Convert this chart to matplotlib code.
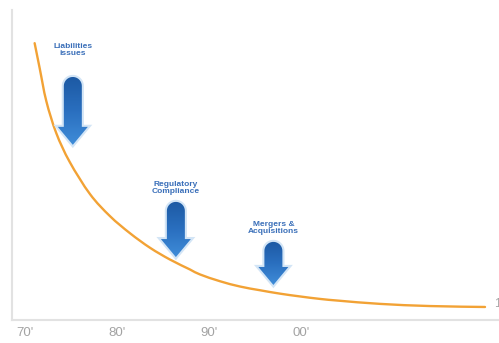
import numpy as np
import matplotlib
matplotlib.use("Agg")
from matplotlib import pyplot as plt
from matplotlib.path import Path
from matplotlib.patches import PathPatch
from matplotlib.colors import LinearSegmentedColormap

# curve (year, relative level)
years = [1971.05, 1971.60, 1972.32, 1973.40, 1974.86, 1977.07, 1979.24, 1981.41,
         1983.59, 1985.76, 1987.93, 1989.02, 1991.20, 1993.37, 1995.54, 1997.72,
         1999.89, 2002.07, 2004.24, 2008.59, 2014.02, 2020.0]
level = [89.3, 81.2, 70.6, 60.3, 51.0, 40.6, 33.5, 28.0,
         23.3, 19.5, 16.3, 14.7, 12.5, 10.8, 9.6, 8.5,
         7.6, 6.8, 6.2, 5.2, 4.5, 4.2]

tick_years = [1970, 1980, 1990, 2000]
tick_labels = ["70'", "80'", "90'", "00'"]

event_labels = ["Liabilities\nissues", "Regulatory\nCompliance", "Mergers &\nAcquisitions"]
event_years = [1975.2, 1986.4, 1997.0]
arrow_top = [78.4, 38.1, 25.2]
arrow_tip = [56.5, 20.3, 11.3]
label_level = [87.0, 42.7, 29.7]

W, H = 499, 343
fig = plt.figure(figsize=(W / 100, H / 100), dpi=100)
ax = fig.add_axes([12 / W, 23 / H, 487 / W, 310 / H])
ax.set_xlim(1968.59, 2021.52)
ax.set_ylim(0, 100)

for s in ["top", "right"]:
    ax.spines[s].set_visible(False)
for s in ["left", "bottom"]:
    ax.spines[s].set_color("#e2e2e2")
    ax.spines[s].set_linewidth(1.5)
ax.set_yticks([])
ax.set_xticks(tick_years)
ax.set_xticklabels(tick_labels, color="#a3a3a3", fontsize=9.5, family="Liberation Sans")
ax.tick_params(axis="x", length=0, pad=5)

# smooth line through the read points (Catmull-Rom drawn as cubic Beziers)
pts = np.column_stack([years, level])
verts = [tuple(pts[0])]
codes = [Path.MOVETO]
for i in range(len(pts) - 1):
    p0 = pts[max(i - 1, 0)]
    p1 = pts[i]
    p2 = pts[i + 1]
    p3 = pts[min(i + 2, len(pts) - 1)]
    verts += [tuple(p1 + (p2 - p0) / 6), tuple(p2 - (p3 - p1) / 6), tuple(p2)]
    codes += [Path.CURVE4] * 3
ax.add_patch(PathPatch(Path(verts, codes), facecolor="none", edgecolor="#f2a235",
                       lw=1.7, capstyle="round", joinstyle="round", zorder=2))

# pixels per data unit
sx = 487 / (2021.52 - 1968.59)
sy = 310 / 100.0

cmap = LinearSegmentedColormap.from_list("arr", ["#3f8cd8", "#2a6fbf", "#1d5aa4"])
grad = np.linspace(0, 1, 64).reshape(-1, 1)

def arrow_path(xc, ytop, ytip):
    hw = 9 / sx
    hh = 15 / sx
    ry = 9 / sy
    hs = ytip + 18 / sy
    t = np.linspace(np.pi, 0, 20)
    arc = [(xc + hw * np.cos(a), ytop - ry + ry * np.sin(a)) for a in t]
    verts = [(xc - hw, hs)] + arc + [(xc + hw, hs), (xc + hh, hs), (xc, ytip), (xc - hh, hs), (xc - hw, hs)]
    codes = [Path.MOVETO] + [Path.LINETO] * (len(verts) - 2) + [Path.CLOSEPOLY]
    return Path(verts, codes)

for lab, x, yt, yp, yl in zip(event_labels, event_years, arrow_top, arrow_tip, label_level):
    p = arrow_path(x, yt, yp)
    glow = PathPatch(p, facecolor="none", edgecolor="#d3e5f6", lw=3, zorder=3)
    ax.add_patch(glow)
    patch = PathPatch(p, facecolor="none", edgecolor="none", zorder=4)
    ax.add_patch(patch)
    im = ax.imshow(grad, cmap=cmap, origin="lower", aspect="auto",
                   extent=[x - 16 / sx, x + 16 / sx, yp, yt], zorder=4)
    im.set_clip_path(patch)
    ax.text(x, yl, lab, ha="center", va="center", fontsize=6, fontweight="bold",
            color="#3a6fb9", family="Liberation Sans", linespacing=1.05, zorder=5)

ax.set_xlim(1968.59, 2021.52)
ax.set_ylim(0, 100)

ax.text(2021.0, 5.2, "10'", ha="left", va="center", fontsize=9, color="#a3a3a3",
        family="Liberation Sans", clip_on=False)

fig.savefig("out.png", dpi=100)
